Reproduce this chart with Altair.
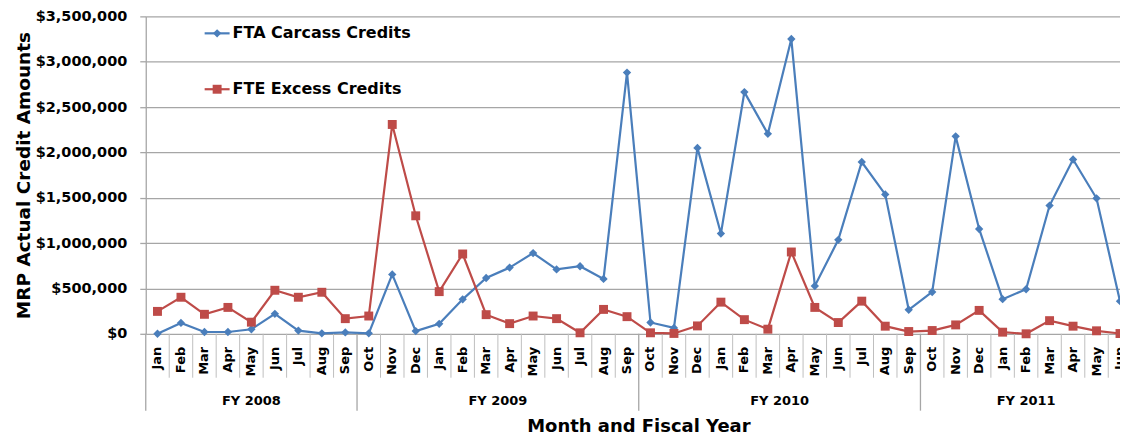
import altair as alt
import pandas as pd

# ---------------- data ----------------
fiscal_years = ["FY 2008", "FY 2009", "FY 2010", "FY 2011"]
fy_months = [
    ["Jan", "Feb", "Mar", "Apr", "May", "Jun", "Jul", "Aug", "Sep"],
    ["Oct", "Nov", "Dec", "Jan", "Feb", "Mar", "Apr", "May", "Jun", "Jul", "Aug", "Sep"],
    ["Oct", "Nov", "Dec", "Jan", "Feb", "Mar", "Apr", "May", "Jun", "Jul", "Aug", "Sep"],
    ["Oct", "Nov", "Dec", "Jan", "Feb", "Mar", "Apr", "May", "Jun"],
]
fta_carcass = [
    0, 120000, 20000, 20000, 50000, 220000, 35000, 5000, 15000,
    5000, 655000, 30000, 110000, 380000, 615000, 730000, 890000, 710000, 745000, 605000, 2880000,
    125000, 65000, 2050000, 1105000, 2665000, 2205000, 3250000, 527000, 1036000, 1894000, 1537000, 265000,
    461000, 2177000, 1156000, 382000, 491000, 1414000, 1922000, 1494000, 360000,
]
fte_excess = [
    247000, 403000, 215000, 291000, 128000, 480000, 403000, 458000, 167000,
    196000, 2308000, 1301000, 465000, 880000, 211000, 112000, 196000, 167000, 11000, 269000, 189000,
    11000, 4000, 87000, 349000, 156000, 51000, 902000, 291000, 124000, 360000, 84000, 25000,
    36000, 98000, 258000, 18000, 0, 145000, 84000, 33000, 3000,
]
series_names = ["FTA Carcass Credits", "FTE Excess Credits"]
y_ticks = [0, 500000, 1000000, 1500000, 2000000, 2500000, 3000000, 3500000]

# ---------------- tables ----------------
months = [m for grp in fy_months for m in grp]
n = len(months)
pos = [i + 0.5 for i in range(n)]
df_fta = pd.DataFrame({"pos": pos, "month": months, "value": fta_carcass})
df_fte = pd.DataFrame({"pos": pos, "month": months, "value": fte_excess})

bounds = [0]
for g in fy_months:
    bounds.append(bounds[-1] + len(g))
group_df = pd.DataFrame({
    "fy": fiscal_years,
    "center": [(bounds[i] + bounds[i + 1]) / 2 for i in range(len(fiscal_years))],
})
group_sep_df = pd.DataFrame({"b": bounds[:-1]})
month_sep_df = pd.DataFrame({"b": [b for b in range(1, n) if b not in bounds]})

# ---------------- style ----------------
W, H = 976, 318
FONT = "DejaVu Sans"
BLUE = "#4A7EBB"
RED = "#BE4B48"
GRID = "#A6A6A6"
SEP = "#BFBFBF"

xscale = alt.Scale(domain=[0, n - 0.5], nice=False, zero=False)
X = alt.X("pos:Q", scale=xscale, axis=None)
yaxis = alt.Axis(
    values=y_ticks, format="$,.0f",
    labelFont=FONT, labelFontSize=14.5, labelFontWeight="bold", labelColor="#000000",
    labelPadding=13, tickSize=6, tickColor=GRID, tickWidth=1.3,
    grid=True, gridColor=GRID, gridWidth=1.3,
    domainColor=GRID, domainWidth=1.3,
    title="MRP Actual Credit Amounts", titleFont=FONT, titleFontSize=18.5,
    titleFontWeight="bold", titleColor="#000000",
    titleX=-122, titleY=H / 2, titleAngle=270, titleAlign="center", titleBaseline="middle",
)
Y = alt.Y("value:Q", scale=alt.Scale(domain=[0, 3500000], nice=False), axis=yaxis)

blue_line = alt.Chart(df_fta).mark_line(color=BLUE, strokeWidth=2.2).encode(x=X, y=Y, order="pos:Q")
blue_pts = alt.Chart(df_fta).mark_point(filled=True, shape="diamond", size=70, color=BLUE, opacity=1).encode(x=X, y=Y)
red_line = alt.Chart(df_fte).mark_line(color=RED, strokeWidth=2.2).encode(x=X, y=Y, order="pos:Q")
red_pts = alt.Chart(df_fte).mark_point(filled=True, shape="square", size=80, color=RED, opacity=1).encode(x=X, y=Y)

month_seps = alt.Chart(month_sep_df).mark_rule(color=SEP, strokeWidth=1).encode(
    x=alt.X("b:Q", scale=xscale, axis=None), y=alt.value(H), y2=alt.value(H + 44))
group_seps = alt.Chart(group_sep_df).mark_rule(color=GRID, strokeWidth=1.3).encode(
    x=alt.X("b:Q", scale=xscale, axis=None), y=alt.value(H), y2=alt.value(H + 77))
month_labels = alt.Chart(df_fta).mark_text(
    font=FONT, fontSize=13, fontWeight="bold", angle=270, align="right", baseline="middle", color="#000000"
).encode(x=X, y=alt.value(H + 13), text="month:N")
group_labels = alt.Chart(group_df).mark_text(
    font=FONT, fontSize=13, fontWeight="bold", align="center", baseline="middle", color="#000000"
).encode(x=alt.X("center:Q", scale=xscale, axis=None), y=alt.value(H + 67), text="fy:N")
x_title = alt.Chart(pd.DataFrame({"t": ["Month and Fiscal Year"]})).mark_text(
    font=FONT, fontSize=18, fontWeight="bold", align="center", baseline="alphabetic", color="#000000"
).encode(x=alt.value(494), y=alt.value(H + 98), text="t:N")

# legend (inside the plot, top-left)
legend_layers = []
for name, color, shape, size, yy in [
    (series_names[0], BLUE, "diamond", 70, 17),
    (series_names[1], RED, "square", 80, 73),
]:
    d = pd.DataFrame({"label": [name]})
    legend_layers.append(alt.Chart(d).mark_rule(color=color, strokeWidth=2.2).encode(
        x=alt.value(59), x2=alt.value(84), y=alt.value(yy)))
    legend_layers.append(alt.Chart(d).mark_point(filled=True, shape=shape, size=size, color=color, opacity=1).encode(
        x=alt.value(71.5), y=alt.value(yy)))
    legend_layers.append(alt.Chart(d).mark_text(
        font=FONT, fontSize=16, fontWeight="bold", align="left", baseline="middle", color="#000000"
    ).encode(x=alt.value(87), y=alt.value(yy), text="label:N"))

chart = alt.layer(
    blue_line, month_seps, group_seps, blue_pts, red_line, red_pts,
    month_labels, group_labels, x_title, *legend_layers
).properties(
    width=W, height=H,
    padding={"left": 138, "top": 8, "right": 0, "bottom": 102},
    autosize=alt.AutoSizeParams(type="none"),
).configure_view(stroke=None)

chart.save("out.html", embed_options={"renderer": "svg", "actions": False})
